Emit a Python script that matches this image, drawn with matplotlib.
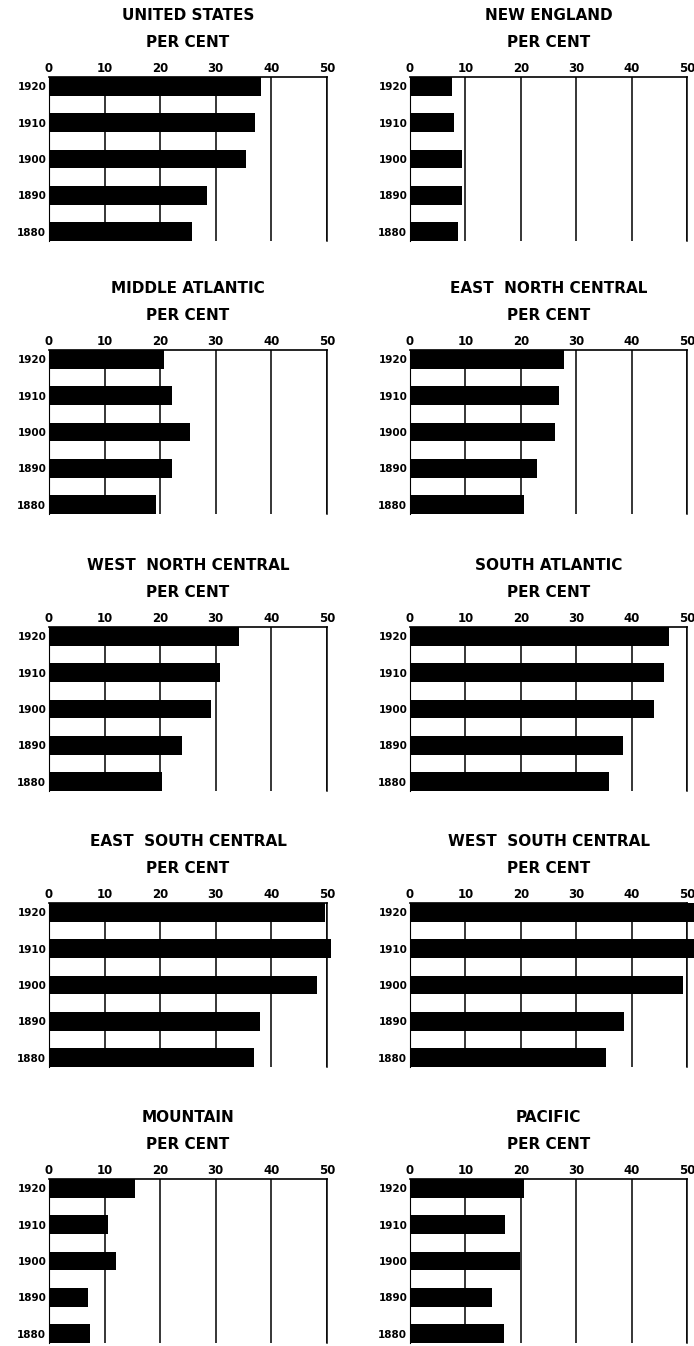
import matplotlib
matplotlib.use("Agg")
import matplotlib.pyplot as plt

years = ["1920", "1910", "1900", "1890", "1880"]
ticks = [0, 10, 20, 30, 40, 50]

united_states = [38.1, 37.0, 35.4, 28.5, 25.8]
new_england = [7.5, 8.0, 9.4, 9.4, 8.6]
middle_atlantic = [20.7, 22.2, 25.4, 22.2, 19.2]
east_north_central = [27.8, 26.9, 26.2, 22.9, 20.6]
west_north_central = [34.1, 30.7, 29.2, 24.0, 20.4]
south_atlantic = [46.7, 45.8, 44.1, 38.4, 35.9]
east_south_central = [49.6, 50.8, 48.2, 38.0, 36.8]
west_south_central = [52.9, 52.8, 49.2, 38.6, 35.4]
mountain = [15.5, 10.7, 12.1, 7.1, 7.3]
pacific = [20.5, 17.1, 19.9, 14.8, 16.9]

titles = ["UNITED STATES", "NEW ENGLAND", "MIDDLE ATLANTIC", "EAST  NORTH CENTRAL",
          "WEST  NORTH CENTRAL", "SOUTH ATLANTIC", "EAST  SOUTH CENTRAL",
          "WEST  SOUTH CENTRAL", "MOUNTAIN", "PACIFIC"]
series = [united_states, new_england, middle_atlantic, east_north_central,
          west_north_central, south_atlantic, east_south_central,
          west_south_central, mountain, pacific]

W, H = 694, 1346
fig = plt.figure(figsize=(W / 100, H / 100), dpi=100)
fig.patch.set_facecolor("white")

col_x = [(49, 278), (410, 277)]
row_top = [77, 350, 627, 903, 1179]
ax_h = 164
bar_h = 0.52

for i, (title, vals) in enumerate(zip(titles, series)):
    left, w = col_x[i % 2]
    top = row_top[i // 2]
    ax = fig.add_axes([left / W, 1 - (top + ax_h) / H, w / W, ax_h / H])

    pos = list(range(len(years)))
    ax.barh(pos, vals, height=bar_h, color="black", clip_on=False, zorder=3)

    ax.set_xlim(0, 50)
    ax.set_ylim(len(years) - 1 + bar_h / 2, -bar_h / 2)

    ax.xaxis.tick_top()
    ax.set_xticks(ticks)
    ax.set_xticklabels([str(t) for t in ticks], fontsize=8.5, fontweight="bold")
    ax.set_yticks(pos)
    ax.set_yticklabels(years, fontsize=7.5, fontweight="bold")
    ax.tick_params(axis="both", length=0)
    ax.tick_params(axis="x", pad=1.5)
    ax.tick_params(axis="y", pad=2)

    ax.xaxis.grid(True, color="black", lw=1.1)
    ax.set_axisbelow(True)

    ax.spines["bottom"].set_visible(False)
    ax.spines["top"].set_linewidth(1.2)
    ax.spines["left"].set_linewidth(0.8)
    ax.spines["right"].set_linewidth(1.1)

    ax.annotate(title, xy=(0.5, 1), xycoords="axes fraction",
                xytext=(0, 44.5), textcoords="offset points",
                ha="center", va="center", fontsize=11, fontweight="bold")
    ax.annotate("PER CENT", xy=(0.5, 1), xycoords="axes fraction",
                xytext=(0, 24.5), textcoords="offset points",
                ha="center", va="center", fontsize=11, fontweight="bold")

fig.savefig("out.png", dpi=100)
